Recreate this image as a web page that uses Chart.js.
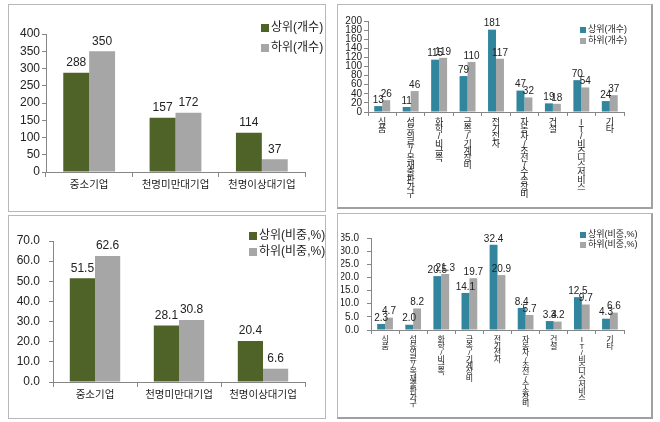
<!DOCTYPE html>
<html lang="ko">
<head>
<meta charset="UTF-8">
<title>상위/하위 기업 분포</title>
<style>
    body { margin: 0; background: #fff; width: 660px; height: 422px; position: relative; overflow: hidden; }
    .panel { position: absolute; border: 1px solid #b8b8b8; box-sizing: border-box; background: #fff; }
    .panel.shadow { border-right: 2px solid #a0a0a0; border-bottom: 2px solid #a0a0a0; }
    .panel canvas { position: absolute; left: 0; top: 0; }
</style>
</head>
<body>
<div class="panel" style="left:8px; top:4px; width:318px; height:208px;"><canvas id="c1"></canvas></div>
<div class="panel" style="left:8px; top:215px; width:318px; height:204px;"><canvas id="c2"></canvas></div>
<div class="panel shadow" style="left:337px; top:4px; width:316px; height:205px;"><canvas id="c3"></canvas></div>
<div class="panel shadow" style="left:337px; top:213px; width:316px; height:206px;"><canvas id="c4"></canvas></div>

<script src="https://cdn.jsdelivr.net/npm/chart.js"></script>
<script>
    // 기업규모별
    const sizeCats = ['중소기업', '천명미만대기업', '천명이상대기업'];
    const sizeTopCount = [288, 157, 114];
    const sizeBottomCount = [350, 172, 37];
    const sizeTopShare = [51.5, 28.1, 20.4];
    const sizeBottomShare = [62.6, 30.8, 6.6];

    // 업종별
    const industryCats = ['식품', '섬유의류/목재출판가구', '화학/비금속', '금속/기계장비', '전기전자',
        '자동차/조선/수송장비', '건설', 'IT/비즈니스서비스', '기타'];
    const indTopCount = [13, 11, 115, 79, 181, 47, 19, 70, 24];
    const indBottomCount = [26, 46, 119, 110, 117, 32, 18, 54, 37];
    const indTopShare = [2.3, 2.0, 20.5, 14.1, 32.4, 8.4, 3.4, 12.5, 4.3];
    const indBottomShare = [4.7, 8.2, 21.3, 19.7, 20.9, 5.7, 3.2, 9.7, 6.6];

    const FONT = "'Liberation Sans', 'Noto Sans CJK KR', sans-serif";
    const GREEN = '#4f6228';
    const GRAY = '#a6a6a6';
    const TEAL = '#31859c';
    const AXIS = '#868686';

    // values above each bar
    const valueLabels = {
        id: 'valueLabels',
        afterDatasetsDraw(chart, args, opts) {
            const ctx = chart.ctx;
            ctx.save();
            ctx.font = opts.size + 'px ' + FONT;
            ctx.fillStyle = '#222';
            ctx.textAlign = 'center';
            ctx.textBaseline = 'bottom';
            chart.data.datasets.forEach((ds, i) => {
                chart.getDatasetMeta(i).data.forEach((bar, j) => {
                    const v = ds.data[j];
                    ctx.fillText(opts.decimals ? v.toFixed(1) : String(v), bar.x, bar.y - opts.gap);
                });
            });
            ctx.restore();
        }
    };

    // small legend in the upper right corner
    const cornerLegend = {
        id: 'cornerLegend',
        afterDraw(chart, args, opts) {
            const ctx = chart.ctx;
            ctx.save();
            ctx.font = opts.size + 'px ' + FONT;
            ctx.textBaseline = 'middle';
            ctx.textAlign = 'left';
            chart.data.datasets.forEach((ds, i) => {
                const y = opts.y + i * opts.step;
                ctx.fillStyle = ds.backgroundColor;
                ctx.fillRect(opts.x, y - opts.box / 2, opts.box, opts.box);
                ctx.fillStyle = '#222';
                ctx.fillText(ds.label, opts.x + opts.box + 2, y);
            });
            ctx.restore();
        }
    };

    function makeChart(id, c) {
        return new Chart(document.getElementById(id), {
            type: 'bar',
            data: {
                labels: c.labels,
                datasets: [
                    { label: c.names[0], data: c.top, backgroundColor: c.colors[0], categoryPercentage: c.catPct, barPercentage: 1 },
                    { label: c.names[1], data: c.bottom, backgroundColor: c.colors[1], categoryPercentage: c.catPct, barPercentage: 1 }
                ]
            },
            options: {
                responsive: true,
                maintainAspectRatio: false,
                animation: false,
                layout: { padding: c.padding },
                plugins: {
                    legend: { display: false },
                    tooltip: { enabled: false },
                    valueLabels: c.valueLabels,
                    cornerLegend: c.legend
                },
                scales: {
                    x: {
                        grid: { drawOnChartArea: false, tickLength: c.xTick, color: AXIS, offset: true },
                        border: { color: AXIS },
                        ticks: {
                            font: { family: FONT, size: c.xFont, lineHeight: c.xLine },
                            color: '#222', padding: c.xPad, maxRotation: 0, minRotation: 0, autoSkip: false
                        },
                        afterFit: s => { s.height = c.xHeight; }
                    },
                    y: {
                        min: 0, max: c.max,
                        grid: { drawOnChartArea: false, tickLength: 4, color: AXIS },
                        border: { color: AXIS },
                        ticks: {
                            stepSize: c.step, autoSkip: false,
                            font: { family: FONT, size: c.yFont },
                            color: '#222', padding: c.yPad,
                            callback: v => c.decimals ? v.toFixed(1) : v
                        },
                        afterFit: s => { s.width = c.yWidth; }
                    }
                }
            },
            plugins: [valueLabels, cornerLegend]
        });
    }

    const stacked = industryCats.map(s => s.split(''));

    makeChart('c1', {
        labels: sizeCats, top: sizeTopCount, bottom: sizeBottomCount,
        names: ['상위(개수)', '하위(개수)'], colors: [GREEN, GRAY], catPct: 0.6,
        padding: { left: 4, right: 20, top: 29, bottom: 0 },
        max: 400, step: 50, decimals: false, yFont: 12, yWidth: 33, yPad: 2,
        xFont: 10.5, xLine: 1.2, xTick: 5, xPad: 2, xHeight: 39,
        valueLabels: { size: 12, gap: 4, decimals: false },
        legend: { x: 252, y: 23, step: 20, box: 8, size: 12 }
    });

    makeChart('c2', {
        labels: sizeCats, top: sizeTopShare, bottom: sizeBottomShare,
        names: ['상위(비중,%)', '하위(비중,%)'], colors: [GREEN, GRAY], catPct: 0.6,
        padding: { left: 4, right: 20, top: 25, bottom: 0 },
        max: 70, step: 10, decimals: true, yFont: 12, yWidth: 40, yPad: 9,
        xFont: 10.5, xLine: 1.2, xTick: 5, xPad: 2, xHeight: 36,
        valueLabels: { size: 12, gap: 4, decimals: true },
        legend: { x: 240, y: 20, step: 16, box: 8, size: 12 }
    });

    makeChart('c3', {
        labels: stacked, top: indTopCount, bottom: indBottomCount,
        names: ['상위(개수)', '하위(개수)'], colors: [TEAL, GRAY], catPct: 0.56,
        padding: { left: 3, right: 27, top: 16, bottom: 0 },
        max: 200, step: 20, decimals: false, yFont: 10, yWidth: 27, yPad: 2,
        xFont: 9, xLine: 0.8, xTick: 4, xPad: 3, xHeight: 95,
        valueLabels: { size: 10, gap: 1, decimals: false },
        legend: { x: 242, y: 25, step: 11, box: 6, size: 9 }
    });

    makeChart('c4', {
        labels: stacked, top: indTopShare, bottom: indBottomShare,
        names: ['상위(비중,%)', '하위(비중,%)'], colors: [TEAL, GRAY], catPct: 0.56,
        padding: { left: 3, right: 27, top: 24, bottom: 0 },
        max: 35, step: 5, decimals: true, yFont: 10, yWidth: 30, yPad: 8,
        xFont: 8, xLine: 0.8, xTick: 4, xPad: 3, xHeight: 87,
        valueLabels: { size: 10, gap: 1, decimals: true },
        legend: { x: 242, y: 21, step: 10, box: 6, size: 9 }
    });
</script>
</body>
</html>
